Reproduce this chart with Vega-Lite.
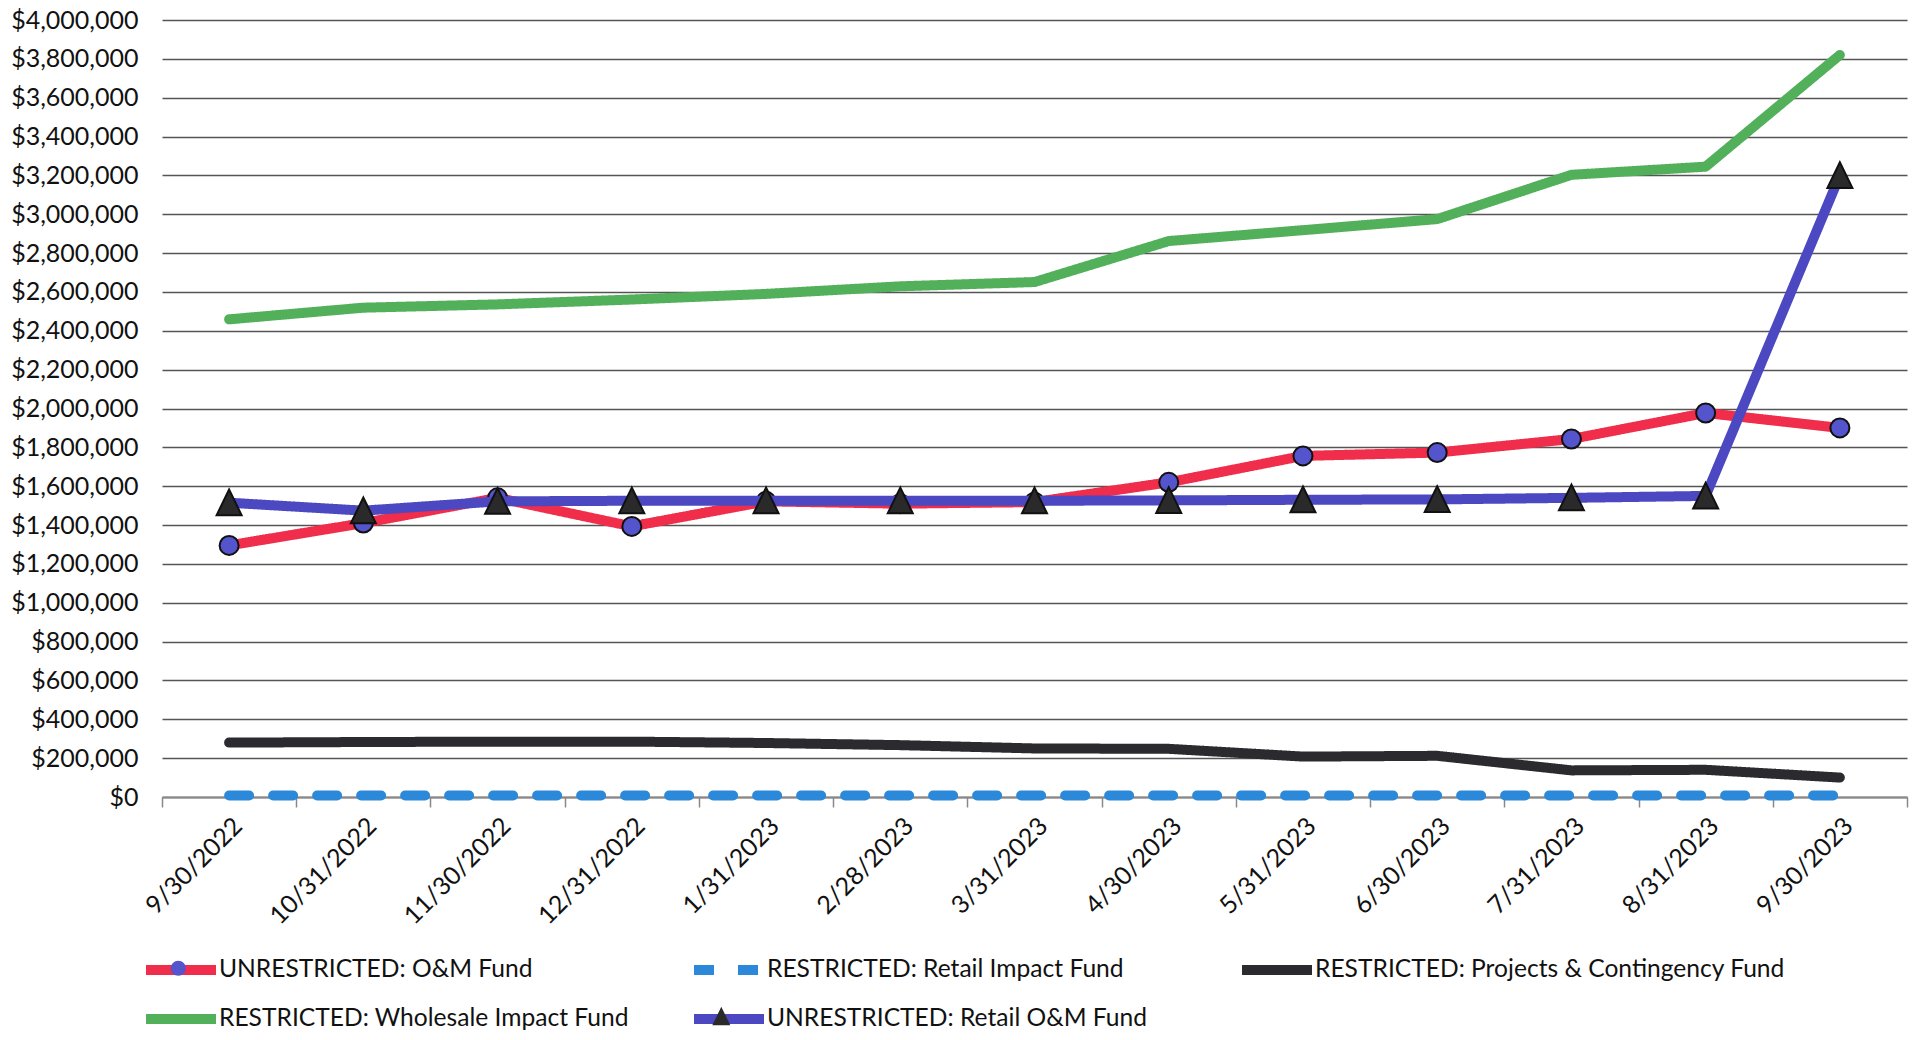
{
  "$schema": "https://vega.github.io/schema/vega-lite/v6.json",
  "autosize": {"type": "none"},
  "width": 1745,
  "height": 777,
  "padding": {"left": 162, "top": 20, "right": 8, "bottom": 243},
  "background": "white",
  "config": {"font": "Lato", "view": {"stroke": null}, "legend": {"padding": 0}},
  "datasets": {
    "funds": [
      {"date": "9/30/2022", "series": "UNRESTRICTED: O&M Fund", "value": 1295000},
      {"date": "10/31/2022", "series": "UNRESTRICTED: O&M Fund", "value": 1410000},
      {"date": "11/30/2022", "series": "UNRESTRICTED: O&M Fund", "value": 1540000},
      {"date": "12/31/2022", "series": "UNRESTRICTED: O&M Fund", "value": 1393000},
      {"date": "1/31/2023", "series": "UNRESTRICTED: O&M Fund", "value": 1522000},
      {"date": "2/28/2023", "series": "UNRESTRICTED: O&M Fund", "value": 1510000},
      {"date": "3/31/2023", "series": "UNRESTRICTED: O&M Fund", "value": 1518000},
      {"date": "4/30/2023", "series": "UNRESTRICTED: O&M Fund", "value": 1620000},
      {"date": "5/31/2023", "series": "UNRESTRICTED: O&M Fund", "value": 1756000},
      {"date": "6/30/2023", "series": "UNRESTRICTED: O&M Fund", "value": 1773000},
      {"date": "7/31/2023", "series": "UNRESTRICTED: O&M Fund", "value": 1843000},
      {"date": "8/31/2023", "series": "UNRESTRICTED: O&M Fund", "value": 1977000},
      {"date": "9/30/2023", "series": "UNRESTRICTED: O&M Fund", "value": 1900000},
      {"date": "9/30/2022", "series": "RESTRICTED: Retail Impact Fund", "value": 8000},
      {"date": "10/31/2022", "series": "RESTRICTED: Retail Impact Fund", "value": 8000},
      {"date": "11/30/2022", "series": "RESTRICTED: Retail Impact Fund", "value": 8000},
      {"date": "12/31/2022", "series": "RESTRICTED: Retail Impact Fund", "value": 8000},
      {"date": "1/31/2023", "series": "RESTRICTED: Retail Impact Fund", "value": 8000},
      {"date": "2/28/2023", "series": "RESTRICTED: Retail Impact Fund", "value": 8000},
      {"date": "3/31/2023", "series": "RESTRICTED: Retail Impact Fund", "value": 8000},
      {"date": "4/30/2023", "series": "RESTRICTED: Retail Impact Fund", "value": 8000},
      {"date": "5/31/2023", "series": "RESTRICTED: Retail Impact Fund", "value": 8000},
      {"date": "6/30/2023", "series": "RESTRICTED: Retail Impact Fund", "value": 8000},
      {"date": "7/31/2023", "series": "RESTRICTED: Retail Impact Fund", "value": 8000},
      {"date": "8/31/2023", "series": "RESTRICTED: Retail Impact Fund", "value": 8000},
      {"date": "9/30/2023", "series": "RESTRICTED: Retail Impact Fund", "value": 8000},
      {"date": "9/30/2022", "series": "RESTRICTED: Projects & Contingency Fund", "value": 280000},
      {"date": "10/31/2022", "series": "RESTRICTED: Projects & Contingency Fund", "value": 283000},
      {"date": "11/30/2022", "series": "RESTRICTED: Projects & Contingency Fund", "value": 285000},
      {"date": "12/31/2022", "series": "RESTRICTED: Projects & Contingency Fund", "value": 285000},
      {"date": "1/31/2023", "series": "RESTRICTED: Projects & Contingency Fund", "value": 278000},
      {"date": "2/28/2023", "series": "RESTRICTED: Projects & Contingency Fund", "value": 267000},
      {"date": "3/31/2023", "series": "RESTRICTED: Projects & Contingency Fund", "value": 250000},
      {"date": "4/30/2023", "series": "RESTRICTED: Projects & Contingency Fund", "value": 248000},
      {"date": "5/31/2023", "series": "RESTRICTED: Projects & Contingency Fund", "value": 208000},
      {"date": "6/30/2023", "series": "RESTRICTED: Projects & Contingency Fund", "value": 212000},
      {"date": "7/31/2023", "series": "RESTRICTED: Projects & Contingency Fund", "value": 137000},
      {"date": "8/31/2023", "series": "RESTRICTED: Projects & Contingency Fund", "value": 140000},
      {"date": "9/30/2023", "series": "RESTRICTED: Projects & Contingency Fund", "value": 100000},
      {"date": "9/30/2022", "series": "RESTRICTED: Wholesale Impact Fund", "value": 2459000},
      {"date": "10/31/2022", "series": "RESTRICTED: Wholesale Impact Fund", "value": 2519000},
      {"date": "11/30/2022", "series": "RESTRICTED: Wholesale Impact Fund", "value": 2536000},
      {"date": "12/31/2022", "series": "RESTRICTED: Wholesale Impact Fund", "value": 2561000},
      {"date": "1/31/2023", "series": "RESTRICTED: Wholesale Impact Fund", "value": 2590000},
      {"date": "2/28/2023", "series": "RESTRICTED: Wholesale Impact Fund", "value": 2629000},
      {"date": "3/31/2023", "series": "RESTRICTED: Wholesale Impact Fund", "value": 2651000},
      {"date": "4/30/2023", "series": "RESTRICTED: Wholesale Impact Fund", "value": 2862000},
      {"date": "5/31/2023", "series": "RESTRICTED: Wholesale Impact Fund", "value": 2918000},
      {"date": "6/30/2023", "series": "RESTRICTED: Wholesale Impact Fund", "value": 2975000},
      {"date": "7/31/2023", "series": "RESTRICTED: Wholesale Impact Fund", "value": 3203000},
      {"date": "8/31/2023", "series": "RESTRICTED: Wholesale Impact Fund", "value": 3245000},
      {"date": "9/30/2023", "series": "RESTRICTED: Wholesale Impact Fund", "value": 3820000},
      {"date": "9/30/2022", "series": "UNRESTRICTED: Retail O&M Fund", "value": 1515000},
      {"date": "10/31/2022", "series": "UNRESTRICTED: Retail O&M Fund", "value": 1474000},
      {"date": "11/30/2022", "series": "UNRESTRICTED: Retail O&M Fund", "value": 1522000},
      {"date": "12/31/2022", "series": "UNRESTRICTED: Retail O&M Fund", "value": 1525000},
      {"date": "1/31/2023", "series": "UNRESTRICTED: Retail O&M Fund", "value": 1525000},
      {"date": "2/28/2023", "series": "UNRESTRICTED: Retail O&M Fund", "value": 1525000},
      {"date": "3/31/2023", "series": "UNRESTRICTED: Retail O&M Fund", "value": 1525000},
      {"date": "4/30/2023", "series": "UNRESTRICTED: Retail O&M Fund", "value": 1527000},
      {"date": "5/31/2023", "series": "UNRESTRICTED: Retail O&M Fund", "value": 1530000},
      {"date": "6/30/2023", "series": "UNRESTRICTED: Retail O&M Fund", "value": 1532000},
      {"date": "7/31/2023", "series": "UNRESTRICTED: Retail O&M Fund", "value": 1540000},
      {"date": "8/31/2023", "series": "UNRESTRICTED: Retail O&M Fund", "value": 1550000},
      {"date": "9/30/2023", "series": "UNRESTRICTED: Retail O&M Fund", "value": 3200000}
    ]
  },
  "data": {"name": "funds"},
  "encoding": {
    "x": {
      "field": "date", "type": "ordinal", "bandPosition": 0.5,
      "scale": {"type": "band", "paddingInner": 0, "paddingOuter": 0,
        "domain": ["9/30/2022", "10/31/2022", "11/30/2022", "12/31/2022", "1/31/2023", "2/28/2023", "3/31/2023", "4/30/2023", "5/31/2023", "6/30/2023", "7/31/2023", "8/31/2023", "9/30/2023"]},
      "axis": {"title": null, "labelAngle": -45, "labelFontSize": 25, "labelFont": "Lato", "labelColor": "#111", "tickBand": "extent", "tickSize": 10, "tickColor": "#888", "tickWidth": 1.5, "domainColor": "#888", "domainWidth": 2, "labelPadding": 6, "grid": false}
    },
    "y": {
      "field": "value", "type": "quantitative",
      "scale": {"domain": [0, 4000000], "nice": false},
      "axis": {"title": null, "format": "$,.0f", "tickCount": 20, "domain": false, "ticks": false, "labelPadding": 24, "labelFontSize": 25, "labelFont": "Lato", "labelColor": "#111", "gridColor": "#555", "gridWidth": 1.5}
    }
  },
  "layer": [
    {
      "transform": [{"filter": {"field": "series", "equal": "UNRESTRICTED: O&M Fund"}}],
      "mark": {"type": "line", "strokeWidth": 10, "strokeCap": "round", "strokeJoin": "round"},
      "encoding": {
        "stroke": {"field": "series", "type": "nominal",
          "scale": {"domain": ["UNRESTRICTED: O&M Fund", "RESTRICTED: Retail Impact Fund", "RESTRICTED: Projects & Contingency Fund", "RESTRICTED: Wholesale Impact Fund", "UNRESTRICTED: Retail O&M Fund"],
            "range": ["#F02D4B", "#2C88D9", "#2B2A2E", "#52B05A", "#4B48C2"]},
          "legend": {"orient": "none", "direction": "horizontal", "legendX": -21, "legendY": 935, "columns": 3, "gridAlign": "all", "columnPadding": -27, "rowPadding": 9, "title": null, "symbolType": "M-3.5,0H3.5", "symbolSize": 400, "symbolOffset": 25, "symbolStrokeWidth": 10, "labelFontSize": 24.6, "labelFont": "Lato", "labelColor": "#111", "labelOffset": 23, "labelLimit": 800}},
        "strokeDash": {"field": "series", "type": "nominal",
          "scale": {"domain": ["UNRESTRICTED: O&M Fund", "RESTRICTED: Retail Impact Fund", "RESTRICTED: Projects & Contingency Fund", "RESTRICTED: Wholesale Impact Fund", "UNRESTRICTED: Retail O&M Fund"],
            "range": [[1, 0], [20, 24], [1, 0], [1, 0], [1, 0]]},
          "legend": {"orient": "none", "direction": "horizontal", "legendX": -21, "legendY": 935, "columns": 3, "gridAlign": "all", "columnPadding": -27, "rowPadding": 9, "title": null, "symbolType": "M-3.5,0H3.5", "symbolSize": 400, "symbolOffset": 25, "symbolStrokeWidth": 10, "labelFontSize": 24.6, "labelFont": "Lato", "labelColor": "#111", "labelOffset": 23, "labelLimit": 800}}
      }
    },
    {
      "transform": [{"filter": {"field": "series", "equal": "UNRESTRICTED: O&M Fund"}}],
      "mark": {"type": "point", "filled": true, "size": 642, "stroke": "#111", "strokeWidth": 2, "opacity": 1},
      "encoding": {
        "shape": {"field": "series", "type": "nominal",
          "scale": {"domain": ["UNRESTRICTED: O&M Fund", "RESTRICTED: Retail Impact Fund", "RESTRICTED: Projects & Contingency Fund", "RESTRICTED: Wholesale Impact Fund", "UNRESTRICTED: Retail O&M Fund", " "],
            "range": ["M-0.75,0A0.75,0.75,0,1,0,0.75,0A0.75,0.75,0,1,0,-0.75,0Z", "M0,0", "M0,0", "M0,0", "M0,-0.95L-0.9,0.9L0.9,0.9Z", "M0,0"]},
          "legend": {"orient": "none", "direction": "horizontal", "legendX": -21, "legendY": 935, "columns": 3, "gridAlign": "all", "columnPadding": -27, "rowPadding": 21, "title": null, "symbolSize": 400, "symbolOffset": 25, "symbolStrokeColor": "#111", "symbolStrokeWidth": 2, "labelFontSize": 24.6, "labelFont": "Lato", "labelOpacity": 0, "labelOffset": 23, "labelLimit": 800}},
        "fill": {"field": "series", "type": "nominal",
          "scale": {"domain": ["UNRESTRICTED: O&M Fund", "RESTRICTED: Retail Impact Fund", "RESTRICTED: Projects & Contingency Fund", "RESTRICTED: Wholesale Impact Fund", "UNRESTRICTED: Retail O&M Fund", " "],
            "range": ["#5454CC", "transparent", "transparent", "transparent", "#2A2A2A", "transparent"]},
          "legend": {"orient": "none", "direction": "horizontal", "legendX": -21, "legendY": 935, "columns": 3, "gridAlign": "all", "columnPadding": -27, "rowPadding": 21, "title": null, "symbolSize": 400, "symbolOffset": 25, "symbolStrokeColor": "#111", "symbolStrokeWidth": 2, "labelFontSize": 24.6, "labelFont": "Lato", "labelOpacity": 0, "labelOffset": 23, "labelLimit": 800}}
      }
    },
    {
      "transform": [{"filter": {"not": {"field": "series", "equal": "UNRESTRICTED: O&M Fund"}}}],
      "mark": {"type": "line", "strokeWidth": 10, "strokeCap": "round", "strokeJoin": "round"},
      "encoding": {
        "stroke": {"field": "series", "type": "nominal"},
        "strokeDash": {"field": "series", "type": "nominal"}
      }
    },
    {
      "transform": [{"filter": {"field": "series", "equal": "UNRESTRICTED: Retail O&M Fund"}}],
      "mark": {"type": "point", "filled": true, "size": 772, "stroke": "#111", "strokeWidth": 2, "opacity": 1},
      "encoding": {
        "shape": {"field": "series", "type": "nominal"},
        "fill": {"field": "series", "type": "nominal"}
      }
    }
  ]
}
